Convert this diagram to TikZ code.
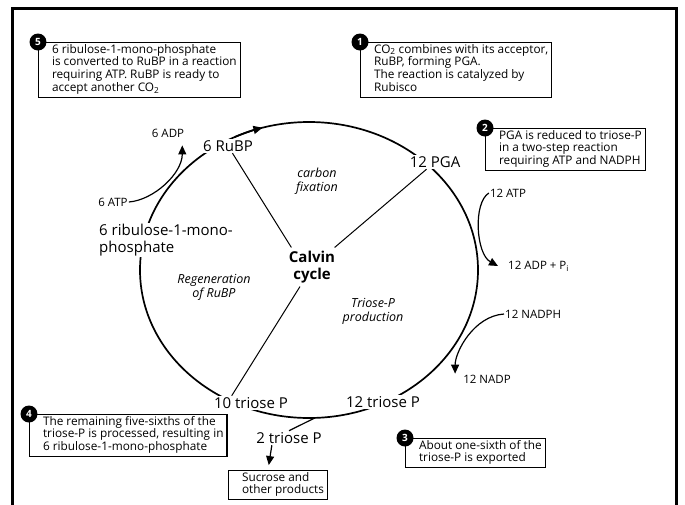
\documentclass[tikz,border=0pt]{standalone}
\usepackage{fontspec}
\setmainfont{Open Sans}
\usetikzlibrary{positioning,calc,arrows.meta}

\newcommand{\boxlines}[1]{\begin{tabular}{@{\hspace{12pt}}l@{\hspace{2pt}}}#1\end{tabular}}

\begin{document}
\begin{tikzpicture}
  [ x=1pt, y=1pt,
    loopline/.style={line width=1.7pt},
    spoke/.style={line width=1pt},
    feed/.style={line width=1.2pt, -{Triangle[length=9pt,width=8pt]}},
    big/.style={fill=white, inner sep=1.5pt, font=\fontsize{15}{16.5}\selectfont},
    small/.style={inner sep=1pt, font=\fontsize{11.5}{13}\selectfont},
    phase/.style={align=center, font=\fontsize{12.5}{14}\selectfont\itshape},
    note/.style={draw, line width=1.1pt, anchor=north west, fill=white,
                 inner xsep=1.5pt, inner ysep=1.5pt, font=\fontsize{11.8}{12.9}\selectfont},
    badge/.style={circle, fill=black, text=white, inner sep=0pt, minimum size=17pt,
                  font=\fontsize{10}{10}\selectfont\bfseries}
  ]

  \useasboundingbox (0,0) rectangle (685,-504);
  \draw[line width=3pt] (12,-510) -- (12,-8) -- (676,-8) -- (676,-510);

  % the cycle
  \coordinate (c) at (309,-270);
  \draw[loopline] (c) ellipse [x radius=169, y radius=148];
  \draw[loopline, -{Triangle[length=9pt,width=8pt]}] ($(c)+(116:169 and 148)$)
    arc [start angle=116, end angle=106, x radius=169, y radius=148];

  \node[big] (rubp) at (228,-146) {6 RuBP};
  \node[big] (pga) at (435,-162) {12 PGA};
  \node[big] (tp12) at (383,-402) {12 triose P};
  \node[big] (tp10) at (251,-403) {10 triose P};
  \node[big, align=left] (rmp) at (166,-240) {6 ribulose-1-mono-\\phosphate};

  \node[align=center, font=\fontsize{15}{17}\selectfont\bfseries] (calvin) at (312,-267) {Calvin\\cycle};
  \node[phase] (fix) at (317,-181) {carbon\\fixation};
  \node[phase] (regen) at (214,-287) {Regeneration\\of RuBP};
  \node[phase] (tprod) at (373,-311) {Triose-P\\production};

  \draw[spoke] (rubp) -- ([xshift=6pt]calvin.north west);
  \draw[spoke] (pga) -- ([xshift=-4pt]calvin.north east);
  \draw[spoke] ([xshift=-12pt]calvin.south) -- ($(tp10.north)!0.5!(tp10.north west)$);

  % inputs and outputs
  \node[small] (adp6) at (168,-133) {6 ADP};
  \node[small] (atp6) at (113,-202) {6 ATP};
  \node[small] (atp12) at (508,-193) {12 ATP};
  \node[small, anchor=west] (adp12) at (507,-266) {12 ADP + P\textsubscript{i}};
  \node[small, anchor=west] (nadph) at (504,-314) {12 NADPH};
  \node[small] (nadp) at (487,-379) {12 NADP};
  \node[big, fill=none] (tp2) at (289,-438) {2 triose P};

  \draw[feed, shorten >=7pt] (atp6.east) .. controls +(25,2) and +(0,-35) .. ([xshift=-3pt]adp6.south east);
  \draw[feed] (atp12.west) .. controls +(-16,-10) and +(-22,12) .. ([xshift=-9pt]adp12.west);
  \draw[feed] (nadph.west) .. controls +(-30,-2) and +(0,22) .. ([xshift=-7pt]nadp.north west);
  \draw[line width=1.2pt] ($(c)+(272:169 and 148)$) -- (tp2.north);

  \node[note] (sucrose) at (228,-470) {\boxlines{Sucrose and\\other products}};
  \draw[feed, shorten >=5pt] ($(tp2.south west)!0.25!(tp2.south east)$) -- ($(sucrose.north west)!0.4!(sucrose.north east)$);

  % numbered notes
  \node[note] (n5) at (38,-42) {\boxlines{6 ribulose-1-mono-phosphate\\is converted to RuBP in a reaction\\requiring ATP. RuBP is ready to\\accept another CO\textsubscript{2}}};
  \node[badge] at (n5.north west) {5};
  \node[note] (n1) at (360,-42) {\boxlines{CO\textsubscript{2} combines with its acceptor,\\RuBP, forming PGA.\\The reaction is catalyzed by\\Rubisco}};
  \node[badge] at (n1.north west) {1};
  \node[note] (n2) at (485,-128) {\boxlines{PGA is reduced to triose-P\\in a two-step reaction\\requiring ATP and NADPH}};
  \node[badge] at (n2.north west) {2};
  \node[note] (n4) at (29,-414) {\boxlines{The remaining five-sixths of the\\triose-P is processed, resulting in\\6 ribulose-1-mono-phosphate}};
  \node[badge] at (n4.north west) {4};
  \node[note] (n3) at (405,-438) {\boxlines{About one-sixth of the\\triose-P is exported}};
  \node[badge] at (n3.north west) {3};
\end{tikzpicture}
\end{document}
